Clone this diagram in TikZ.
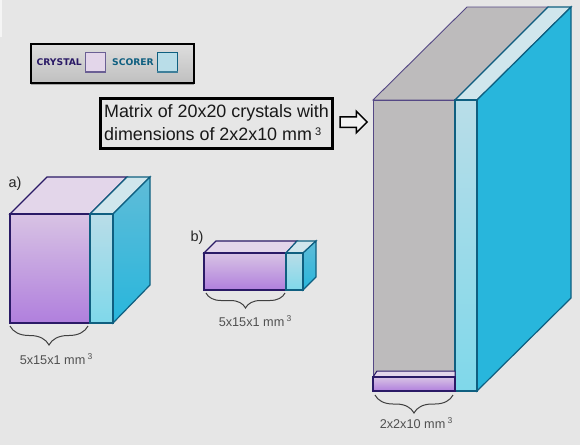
\documentclass[tikz,border=0pt]{standalone}
\usepackage{fontspec}
\setmainfont{Liberation Sans}
\newfontfamily\legendfont{DejaVu Sans}
\usetikzlibrary{shapes,arrows,positioning,calc,decorations.pathreplacing,shadows}
\definecolor{pagegray}{HTML}{E6E6E6}
\definecolor{crystaledge}{HTML}{2A1A66}
\definecolor{scoreredge}{HTML}{0F5F80}
\definecolor{emptygray}{HTML}{BDBBBC}
\definecolor{labelgray}{HTML}{505050}
\definecolor{crystalhigh}{HTML}{D8C3E4}
\definecolor{crystallow}{HTML}{B07FDD}
\definecolor{crystalroof}{HTML}{E3D6EA}
\definecolor{scorerhigh}{HTML}{B9DDE8}
\definecolor{scorerlow}{HTML}{7FD8EA}
\definecolor{scorerroof}{HTML}{D0E6EC}
\definecolor{sidehigh}{HTML}{5FBCD8}
\definecolor{sidelow}{HTML}{28B6DC}

\begin{document}
\begin{tikzpicture}[
    x=1pt, y=-1pt,
    crystalfront/.style={draw=crystaledge, line width=1.2pt, top color=crystalhigh, bottom color=crystallow},
    crystaltop/.style={draw=crystaledge, line width=1.2pt, fill=crystalroof},
    scorerfront/.style={draw=scoreredge, line width=1.2pt, top color=scorerhigh, bottom color=scorerlow},
    scorertop/.style={draw=scoreredge, line width=1.2pt, fill=scorerroof},
    scorerside/.style={draw=scoreredge, line width=1.2pt, top color=sidehigh, bottom color=sidelow},
    emptyface/.style={draw=crystaledge!80, line width=0.9pt, fill=emptygray},
    sizebrace/.style={draw=black!75, line width=1pt, decorate, decoration={brace, mirror, amplitude=#1, aspect=0.5}},
    sizelabel/.style={font=\fontsize{12.7}{15}\selectfont, text=labelgray, inner sep=0pt},
    partlabel/.style={font=\fontsize{14.5}{17}\selectfont, text=black!85, inner sep=0pt},
    swatch/.style={draw, line width=1pt, minimum size=20pt, inner sep=0pt},
    legendtext/.style={font=\legendfont\bfseries\fontsize{9.2}{11}\selectfont, inner sep=0pt}
]
\useasboundingbox (0,0) rectangle (580,445);
\fill[pagegray] (0,0) rectangle (580,445);
\fill[white!60!pagegray] (0,0) rectangle (2,37);

% legend
\node[draw=black, line width=1.1pt, minimum width=163pt, minimum height=39pt, inner sep=0pt,
      top color=black!13, bottom color=black!25, drop shadow={shadow xshift=0pt, shadow yshift=-2pt, fill=black!60}] (legend) at (112.5,63.5) {};
\node[swatch, draw=crystaledge!70, fill=crystalroof] (crystalbox) at (95.5,62) {};
\node[swatch, draw=scoreredge, fill=scorerhigh] (scorerbox) at (167.5,62) {};
\fill[crystaledge!70] (crystalbox.south west) rectangle ($(crystalbox.south east)+(0,-2)$);
\fill[scoreredge!80] (scorerbox.south west) rectangle ($(scorerbox.south east)+(0,-2)$);
\node[legendtext, text=crystaledge, left=3pt of crystalbox] (crystallabel) {CRYSTAL};
\node[legendtext, text=scoreredge, left=3pt of scorerbox] (scorerlabel) {SCORER};

% matrix text and arrow
\node[draw=black, line width=3pt, minimum width=232pt, minimum height=50pt, inner sep=2pt, align=left,
      font=\fontsize{17.9}{23}\selectfont, text=black!90, xshift=-0.5pt] (matrixbox) at (217,123)
      {Matrix of 20x20 crystals with\\dimensions of 2x2x10 mm\,\raisebox{5pt}{\fontsize{11}{11}\selectfont 3}};
\node[single arrow, draw=black, line width=1.5pt, fill=white!50!pagegray, minimum height=27pt,
      single arrow head extend=5.5pt, single arrow tip angle=90, inner sep=4.5pt] (matrixarrow) at (351,122) {};

% block a
\coordinate (atl) at (10,214);
\coordinate (atm) at (90,214);
\coordinate (atr) at (113,214);
\coordinate (abl) at (10,323);
\coordinate (abm) at (90,323);
\coordinate (abr) at (113,323);
\coordinate (abackl) at (47,177);
\coordinate (abackm) at (127,177);
\coordinate (abackr) at (150,177);
\coordinate (abackb) at (150,285);
\path[crystaltop] (atl) -- (abackl) -- (abackm) -- (atm) -- cycle;
\path[scorertop] (atm) -- (abackm) -- (abackr) -- (atr) -- cycle;
\path[scorerside] (atr) -- (abackr) -- (abackb) -- (abr) -- cycle;
\path[crystalfront] (atl) rectangle (abm);
\path[scorerfront] (atm) rectangle (abr);
\draw[sizebrace=19pt] (10,326) -- (88,326);
\node[sizelabel] (alabel) at (56,359) {5x15x1 mm\,\raisebox{4.5pt}{\fontsize{8.5}{9}\selectfont 3}};
\node[partlabel] (aname) at (15,184) {a)};

% block b
\coordinate (btl) at (204,253);
\coordinate (btm) at (286,253);
\coordinate (btr) at (303,253);
\coordinate (bbl) at (204,290);
\coordinate (bbm) at (286,290);
\coordinate (bbr) at (303,290);
\coordinate (bbackl) at (216,241);
\coordinate (bbackm) at (297,241);
\coordinate (bbackr) at (316,241);
\coordinate (bbackb) at (316,277);
\path[crystaltop] (btl) -- (bbackl) -- (bbackm) -- (btm) -- cycle;
\path[scorertop] (btm) -- (bbackm) -- (bbackr) -- (btr) -- cycle;
\path[scorerside] (btr) -- (bbackr) -- (bbackb) -- (bbr) -- cycle;
\path[crystalfront] (btl) rectangle (bbm);
\path[scorerfront] (btm) rectangle (bbr);
\draw[sizebrace=15pt] (206,293) -- (285,293);
\node[sizelabel] (blabel) at (255,321) {5x15x1 mm\,\raisebox{4.5pt}{\fontsize{8.5}{9}\selectfont 3}};
\node[partlabel] (bname) at (197,238) {b)};

% block c, the whole matrix
\coordinate (ctl) at (373,100);
\coordinate (ctm) at (455,100);
\coordinate (ctr) at (477,100);
\coordinate (cbl) at (373,391);
\coordinate (cbm) at (455,391);
\coordinate (cbr) at (477,391);
\coordinate (cbackl) at (467,7);
\coordinate (cbackm) at (548,7);
\coordinate (cbackr) at (571,7);
\coordinate (cbackb) at (571,298);
\path[emptyface] (ctl) -- (cbackl) -- (cbackm) -- (ctm) -- cycle;
\path[scorertop] (ctm) -- (cbackm) -- (cbackr) -- (ctr) -- cycle;
\path[scorerside, top color=sidelow] (ctr) -- (cbackr) -- (cbackb) -- (cbr) -- cycle;
\path[emptyface] (ctl) rectangle (cbm);
\path[scorerfront] (ctm) rectangle (cbr);
% single crystal in the corner of the matrix
\path[draw=crystaledge, line width=1pt, fill=crystalroof] (373,377) -- (377,371) -- (455,371) -- (455,377) -- cycle;
\path[crystalfront] (373,377) rectangle (455,391);
\draw[sizebrace=18pt] (375,395) -- (453,395);
\node[sizelabel] (clabel) at (416,423) {2x2x10 mm\,\raisebox{4.5pt}{\fontsize{8.5}{9}\selectfont 3}};
\end{tikzpicture}
\end{document}
